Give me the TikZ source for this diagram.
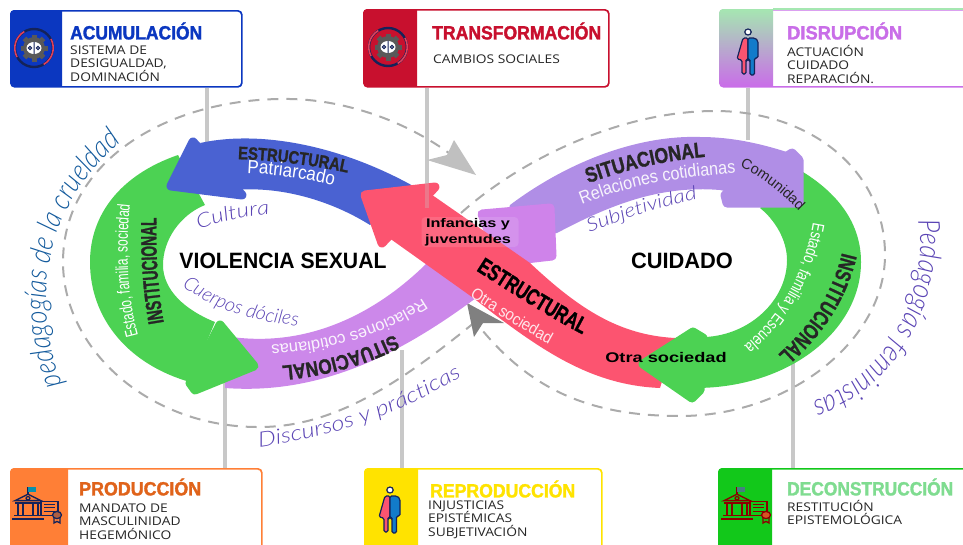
\documentclass[tikz,border=0pt]{standalone}
\usepackage{fontspec}
\usetikzlibrary{decorations.text}
\setmainfont[FakeStretch=1.15]{Open Sans}
\newfontfamily\condb[FakeStretch=0.62,FakeBold=1.2]{Liberation Sans Bold}
\newfontfamily\condc[FakeStretch=0.72,FakeBold=1.2]{Liberation Sans Bold}
\newfontfamily\condd[FakeStretch=0.82,FakeBold=1.2]{Liberation Sans Bold}
\newfontfamily\condr[FakeStretch=0.68]{Liberation Sans}
\newfontfamily\condq[FakeStretch=0.76]{Liberation Sans}
\newfontfamily\condw[FakeStretch=0.9]{Liberation Sans}
\newfontfamily\hand{Lato Light Italic}
\newfontfamily\handn[FakeStretch=0.85]{Lato Light Italic}
\newfontfamily\handw[FakeStretch=1.2]{Lato Light Italic}
\newfontfamily\armo{Liberation Sans Bold}
\newfontfamily\armow[FakeStretch=1.3]{Liberation Sans Bold}
\newfontfamily\plain{Liberation Sans}
\definecolor{cblue}{HTML}{0B37C0}
\definecolor{cred}{HTML}{C8102E}
\definecolor{cviol}{HTML}{C96EE8}
\definecolor{corange}{HTML}{FF7F36}
\definecolor{ctorange}{HTML}{E0631A}
\definecolor{cyel}{HTML}{FFE300}
\definecolor{cgreen}{HTML}{12C81A}
\definecolor{ctgreen}{HTML}{7FDC90}
\definecolor{rgreen}{HTML}{4CD253}
\definecolor{rblue}{HTML}{4A62D2}
\definecolor{rpur}{HTML}{CC88EA}
\definecolor{rlil}{HTML}{B08EE6}
\definecolor{rpink}{HTML}{CF83EA}
\definecolor{rred}{HTML}{FC5470}
\definecolor{glin}{HTML}{C8C8C8}
\definecolor{gdash}{HTML}{ABABAB}
\definecolor{hpur}{HTML}{5A44B4}
\definecolor{hblue}{HTML}{135A9C}
\definecolor{navy}{HTML}{14235A}
\definecolor{FF}{HTML}{E0405A}
\tikzset{
 x=1pt,y=-1pt,
 glinestyle/.style={draw=glin,line width=3.5pt},
 dashline/.style={draw=gdash,line width=2pt,dash pattern=on 11pt off 8pt},
 titlenode/.style={anchor=west,inner sep=0pt},
 bodynode/.style={anchor=west,inner sep=0pt,align=left,font=\fontsize{12}{13.5}\selectfont,text=black!85},
 cardnode/.style={anchor=north west,inner sep=0pt,rounded corners=4pt,line width=1.7pt,fill=white},
 ribbontext/.style={inner sep=0pt},
 headshape/.style={draw=#1,fill=#1,line width=9pt,line join=round},
}
\newcommand\card[7]{% name,x1,y1,x2,y2,panel x,colour
 \node[cardnode,draw=#7,minimum width=#4pt-#2pt,minimum height=#5pt-#3pt] (#1) at (#2,#3) {};
 \begin{scope}\clip (#2-2,#3-2) rectangle (#6,#5+2);
 \fill[#7,rounded corners=4pt] (#2,#3) rectangle (#4,#5);\end{scope}}
\newcommand\ctext[4]{\path[decorate,decoration={text along path,text align=center,text={|#1\color{#2}|#3}}] #4;}
\newcommand\geariconat[2]{\begin{scope}[shift={(#1,#2)}]
 \draw[navy,line width=2.4pt] (0,0) circle (19);
 \draw[FF,line width=1.6pt] (17,-9) arc (-28:60:19);
 \draw[FF,line width=1.6pt] (-17,9) arc (152:240:19);
 \fill[black!65] (0,0) circle (11);
 \foreach \a in {0,45,...,315}{\fill[black!65,rotate=\a] (-2.5,-13.5) rectangle (2.5,-9);}
 \fill[white] (0,0) ellipse (7.5 and 6);
 \draw[navy,line width=1pt] (0,-6) -- (0,6) (-4,0) circle (1.6) (4,0) circle (1.6);
 \end{scope}}
\newcommand\persat[2]{\begin{scope}[shift={(#1,#2)}]
 \draw[navy,line width=1.2pt,fill=white] (0,-20) ellipse (3.2 and 3);
 \draw[navy,line width=1.2pt,fill=rred,rounded corners=1.5pt] (0,-14) -- (-5,-14) -- (-11,7) -- (-6,8) -- (-6,22) -- (-2,22) -- (-2,8) -- (0,8) -- cycle;
 \draw[navy,line width=1.2pt,fill=cyan!60!blue,rounded corners=1.5pt] (0,-14) -- (7,-14) -- (10,-11) -- (10,6) -- (6.5,6) -- (6.5,23) -- (2,23) -- (2,8) -- (0,8) -- cycle;
 \end{scope}}
\newcommand\bldat[3]{\begin{scope}[shift={(#1,#2)},yscale=.8,line width=1.3pt,draw=#3]
 \draw (-12,-16) -- (-12,-25); \fill[#3!50!cyan] (-12,-25) -- (-4,-25) -- (-4,-19) -- (-12,-19) -- cycle;
 \draw (-25,-8) -- (-12,-16) -- (1,-8) -- cycle;
 \draw (-12,-11) circle (2);
 \draw (-25,-5) -- (1,-5) (-26,11) -- (2,11) (-28,15) -- (4,15);
 \foreach \a in {-22,-17,-7,-2}{\draw[line width=1.6pt] (\a,-5) -- (\a,11);}
 \draw (1,-7) rectangle (18,11);
 \foreach \b in {-3,1,5}{\draw[line width=.8pt] (4,\b) -- (15,\b);}
 \draw[fill=#3!35!corange] (17,10) circle (4.5);
 \draw (14,14) -- (14,20) -- (17,18) -- (20,20) -- (20,14);
 \end{scope}}
\begin{document}
\begin{tikzpicture}
\path[use as bounding box] (0,0) rectangle (963,544);
% cards
\card{acu}{10}{10}{241}{86}{62}{cblue}
\card{tra}{363}{9}{608}{86}{417}{cred}
\node[cardnode,draw=cviol,minimum width=250pt,minimum height=77pt] (dis) at (719,9) {};
\begin{scope}\clip (717,7) rectangle (773,88);
 \path[rounded corners=4pt,top color=ctgreen!70!white,bottom color=cviol] (719,9) rectangle (969,86);\end{scope}
\draw[ctgreen!70!white,line width=1.7pt] (773,9) -- (963,9);
\card{pro}{10}{468}{261}{549}{68}{corange}
\card{rep}{364}{468}{601}{549}{418}{cyel}
\card{dec}{718}{468}{970}{549}{772}{cgreen}
% connectors
\coordinate (e1) at (207,143);
\coordinate (e2) at (427,208);
\coordinate (e3) at (748,140);
\coordinate (e4) at (225,382);
\coordinate (e5) at (402,350);
\coordinate (e6) at (793,362);
\draw[glinestyle] (acu.south -| e1) -- (e1);
\draw[glinestyle] (tra.south -| e2) -- (e2);
\draw[glinestyle] (dis.south -| e3) -- (e3);
\draw[glinestyle] (pro.north -| e4) -- (e4);
\draw[glinestyle] (rep.north -| e5) -- (e5);
\draw[glinestyle] (dec.north -| e6) -- (e6);
% dashed loops
\draw[dashline] (470,170) .. controls (420,125) and (350,100) .. (290,99) .. controls (170,97) and (63,160) .. (63,262) .. controls (63,350) and (150,428) .. (260,427) .. controls (340,427) and (410,375) .. (480,318);
\draw[dashline] (461,213) .. controls (520,160) and (620,111) .. (715,111) .. controls (810,111) and (885,170) .. (885,255) .. controls (885,340) and (790,416) .. (680,416) .. controls (590,416) and (530,390) .. (478,325);
\coordinate (a1) at (476,175);
\coordinate (a2) at (467,303);
\fill[gdash!75] (a1) -- (454,140) -- (447,155) -- (427,160) -- cycle;
\fill[black!50] (a2) -- (474,337) -- (483,323) -- (504,323) -- cycle;
% ribbons
\fill[rpur] (225,388) .. controls (320,395) and (400,355) .. (480,295) -- (428,262) .. controls (380,310) and (310,350) .. (225,336) -- cycle;
\fill[rgreen] (178,155) .. controls (120,175) and (90,215) .. (90,262) .. controls (90,320) and (130,365) .. (190,382) -- (215,322) .. controls (185,310) and (163,290) .. (163,265) .. controls (163,240) and (180,215) .. (205,205) -- cycle;
\path[headshape=rgreen] (220,325) -- (254,366) -- (195,390) -- (190,383) -- cycle;
\fill[rblue] (200,143) .. controls (260,130) and (340,145) .. (415,187) -- (370,225) .. controls (330,200) and (280,186) .. (235,190) -- cycle;
\path[headshape=rblue] (193,142) -- (171,186) -- (242,195) -- cycle;
\fill[rlil] (510,205) .. controls (570,160) and (640,135) .. (700,137) .. controls (735,137) and (765,145) .. (790,153) -- (790,205) -- (720,190) .. controls (660,185) and (610,205) .. (557,233) -- (500,240) -- cycle;
\path[headshape=rpink] (482,214) -- (550,208) -- (552,256) -- (543,257) -- (500,262) -- cycle;
\fill[rred] (425,190) -- (530,263) .. controls (580,310) and (620,335) .. (675,338) -- (660,388) .. controls (590,385) and (540,350) .. (472,297) -- (385,235) -- cycle;
\path[headshape=rred] (365,195) -- (435,187) -- (382,243) -- cycle;
\draw[glin,line width=3.5pt,opacity=.3] (e2) -- ++(0,-26);
\fill[rgreen] (803,172) .. controls (840,195) and (861,225) .. (861,262) .. controls (861,330) and (790,388) .. (695,388) -- (705,337) .. controls (750,335) and (787,300) .. (787,260) .. controls (787,240) and (775,220) .. (760,208) -- cycle;
\path[headshape=rgreen] (693,332) -- (703,338) -- (700,390) -- (692,398) -- (643,364) -- cycle;
\path[headshape=rlil] (792,153) -- (799,160) -- (799,203) -- (727,203) -- (725,195) -- cycle;
% box on red
\node[fill=white,fill opacity=.12,rounded corners=4pt,minimum width=97pt,minimum height=30pt,inner sep=0pt] (infbox) at (470,232) {};
\node[ribbontext,align=center,font=\armow\fontsize{12.5}{16}\selectfont,text=black] (inf) at (468,232) {Infancias y\\juventudes};
\node[ribbontext,font=\armow\fontsize{14}{15}\selectfont,text=black] (otra) at (666,357) {Otra sociedad};
% centre titles
\node[ribbontext,text=black] (viol) at (283,261) {\resizebox{207pt}{15.5pt}{\armo VIOLENCIA SEXUAL}};
\node[ribbontext,text=black] (cuid) at (682,261) {\resizebox{102pt}{15.5pt}{\armo CUIDADO}};
% ribbon text
\ctext{\condd\fontsize{18}{18}\selectfont}{black!85}{ESTRUCTURAL}{(215,159) .. controls (260,158) and (320,165) .. (370,178)}
\ctext{\condw\fontsize{19}{19}\selectfont}{white}{Patriarcado}{(220,173) .. controls (265,172) and (310,178) .. (360,192)}
\ctext{\condr\fontsize{17.5}{17.5}\selectfont}{white}{Estado, familia, sociedad}{(143,352) .. controls (125,300) and (125,240) .. (132,188)}
\ctext{\condb\fontsize{22}{22}\selectfont}{black!85}{INSTITUCIONAL}{(167,340) .. controls (157,290) and (155,250) .. (157,200)}
\ctext{\condd\fontsize{21}{21}\selectfont}{black!85}{SITUACIONAL}{(412,325) .. controls (370,350) and (320,365) .. (262,367)}
\ctext{\plain\fontsize{16.5}{16.5}\selectfont}{white!90!rpur}{Relaciones cotidianas}{(440,286) .. controls (390,325) and (330,345) .. (250,346)}
\ctext{\condd\fontsize{21.5}{21.5}\selectfont}{black!85}{SITUACIONAL}{(565,192) .. controls (620,170) and (670,158) .. (730,155)}
\ctext{\condw\fontsize{18}{18}\selectfont}{white!90!rlil}{Relaciones cotidianas}{(555,216) .. controls (620,185) and (680,175) .. (765,172)}
\ctext{\plain\fontsize{14.5}{14.5}\selectfont}{black!85}{Comunidad}{(722,160) .. controls (760,172) and (785,195) .. (812,225)}
\ctext{\condq\fontsize{17}{17}\selectfont}{white}{Estado, familia y Escuela}{(815,208) .. controls (810,260) and (785,320) .. (732,354)}
\ctext{\condc\fontsize{22}{22}\selectfont}{black!85}{INSTITUCIONAL}{(846,232) .. controls (838,290) and (810,330) .. (762,368)}
\ctext{\condc\fontsize{23}{23}\selectfont}{black}{ESTRUCTURAL}{(450,254) .. controls (500,285) and (550,320) .. (610,348)}
\ctext{\condw\fontsize{16.5}{16.5}\selectfont}{white!85!rred}{Otra sociedad}{(445,280) .. controls (490,310) and (530,335) .. (575,358)}
% handwritten
\ctext{\handw\fontsize{20}{20}\selectfont}{hpur}{Cultura}{(185,236) .. controls (215,222) and (250,214) .. (285,213)}
\ctext{\handw\fontsize{19}{19}\selectfont}{hpur}{Subjetividad}{(570,240) .. controls (620,220) and (660,205) .. (718,195)}
\ctext{\hand\fontsize{19.5}{19.5}\selectfont}{hpur}{Cuerpos dóciles}{(165,272) .. controls (200,305) and (250,325) .. (320,327)}
\ctext{\handw\fontsize{21}{21}\selectfont}{hpur}{Discursos y prácticas}{(232,450) .. controls (340,440) and (410,410) .. (485,362)}
\ctext{\handn\fontsize{30}{30}\selectfont}{hblue}{pedagogías de la crueldad}{(80,420) .. controls (15,310) and (45,180) .. (155,120)}
\ctext{\handn\fontsize{30}{30}\selectfont}{hpur}{Pedagogías feministas}{(914,198) .. controls (938,280) and (892,388) .. (790,408)}
% titles
\node[titlenode,text=cblue] (t1) at (70,31) {\resizebox{132pt}{17pt}{\condb ACUMULACIÓN}};
\node[titlenode,text=cred] (t2) at (432,31) {\resizebox{169pt}{17pt}{\condb TRANSFORMACIÓN}};
\node[titlenode,text=cviol] (t3) at (787,31) {\resizebox{115pt}{17pt}{\condb DISRUPCIÓN}};
\node[titlenode,text=ctorange] (t4) at (79,487) {\resizebox{122pt}{17pt}{\condb PRODUCCIÓN}};
\node[titlenode,text=cyel] (t5) at (430,489) {\resizebox{145pt}{17pt}{\condb REPRODUCCIÓN}};
\node[titlenode,text=ctgreen] (t6) at (787,487) {\resizebox{166pt}{17pt}{\condb DECONSTRUCCIÓN}};
% bodies
\node[bodynode] (b1) at (70,63.5) {SISTEMA DE\\DESIGUALDAD,\\DOMINACIÓN};
\node[bodynode] (b2) at (433,59) {CAMBIOS SOCIALES};
\node[bodynode] (b3) at (787,64) {ACTUACIÓN\\CUIDADO\\REPARACIÓN.};
\node[bodynode] (b4) at (79,521.5) {MANDATO DE\\MASCULINIDAD\\HEGEMÓNICO};
\node[bodynode] (b5) at (428,519.5) {INJUSTICIAS\\EPISTÉMICAS\\SUBJETIVACIÓN};
\node[bodynode] (b6) at (787,512.5) {RESTITUCIÓN\\EPISTEMOLÓGICA};
% icons
\geariconat{34}{48}
\geariconat{388}{47}
\persat{748}{52}
\persat{390}{510}
\bldat{40}{507}{navy}
\bldat{749}{507}{red!55!black}
\end{tikzpicture}
\end{document}
